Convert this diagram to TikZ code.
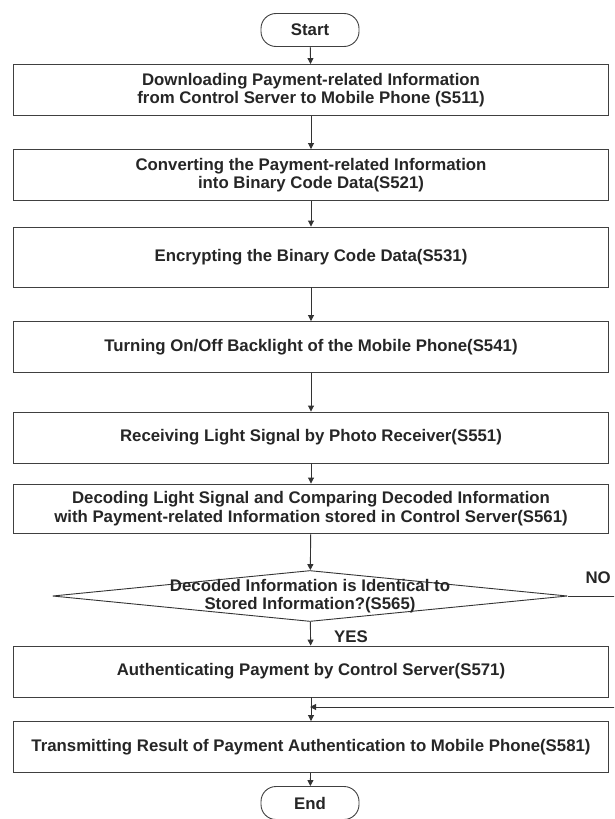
\documentclass[tikz,border=0pt]{standalone}
\usepackage{fontspec}
\setmainfont{Liberation Sans}
\usetikzlibrary{arrows.meta, shapes.geometric}

\tikzset{
  stepbox/.style={draw=black!75, line width=0.9pt, minimum width=595pt, minimum height=51pt,
    align=center, font=\bfseries\fontsize{16.8}{18.5}\selectfont, text=black!85},
  term/.style={draw=black!75, line width=0.9pt, rounded corners=15pt, minimum width=98pt,
    minimum height=33pt, font=\bfseries\fontsize{16.8}{18.5}\selectfont, text=black!85},
  flow/.style={-{Triangle[width=6pt,length=6pt]}, line width=0.9pt, draw=black!80},
  lbl/.style={font=\bfseries\fontsize{16.8}{18.5}\selectfont, text=black!85, inner sep=1pt}
}

\begin{document}
\begin{tikzpicture}[x=1pt, y=-1pt]
        \clip (0,0) rectangle (614,819);
        \fill[white] (0,0) rectangle (614,819);

        % start / end
        \node[term] (start) at (310,30) {Start};
        \node[term] (end) at (310,803) {End};

        % steps
        \node[stepbox] (s511) at (311,90) {Downloading Payment-related Information\\from Control Server to Mobile Phone (S511)};
        \node[stepbox] (s521) at (311,175) {Converting the Payment-related Information\\into Binary Code Data(S521)};
        \node[stepbox, minimum height=60pt] (s531) at (311,257) {Encrypting the Binary Code Data(S531)};
        \node[stepbox] (s541) at (311,347) {Turning On/Off Backlight of the Mobile Phone(S541)};
        \node[stepbox] (s551) at (311,437.5) {Receiving Light Signal by Photo Receiver(S551)};
        \node[stepbox, minimum height=49pt] (s561) at (311,508.5) {Decoding Light Signal and Comparing Decoded Information\\with Payment-related Information stored in Control Server(S561)};
        \node[stepbox] (s571) at (311,671.5) {Authenticating Payment by Control Server(S571)};
        \node[stepbox] (s581) at (311,747) {Transmitting Result of Payment Authentication to Mobile Phone(S581)};

        % decision
        \node[diamond, draw=black!80, line width=0.9pt, minimum width=515pt, minimum height=51pt, inner sep=0pt] (s565) at (310,596) {};
        \node[lbl, align=center] (s565txt) at (310,596) {Decoded Information is Identical to\\Stored Information?(S565)};
        \node[lbl, anchor=west] (yes) at (333,637) {YES};
        \node[lbl, anchor=east] (no) at (612,578) {NO};
        \coordinate (join) at (310,707);

        % arrows
        \draw[flow] (start) -- (s511);
        \draw[flow] (s511) -- (s521);
        \draw[flow] (s521) -- (s531);
        \draw[flow] (s531) -- (s541);
        \draw[flow] (s541) -- (s551);
        \draw[flow] (s551) -- (s561);
        \draw[flow] (s561) -- (s565);
        \draw[flow] (s565) -- (s571);
        \draw[flow] (s571) -- (s581);
        \draw[flow] (s581) -- (end);
        \draw[flow] (s565.east) -- ++(70,0) |- (join);
\end{tikzpicture}
\end{document}
